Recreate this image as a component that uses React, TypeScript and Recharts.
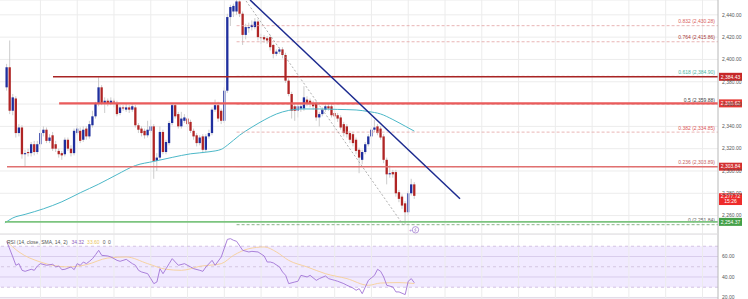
import React from "react";
import {
  ComposedChart,
  Bar,
  Line,
  XAxis,
  YAxis,
  CartesianGrid,
  ReferenceLine,
  ReferenceArea,
} from "recharts";

const FONT = "'Liberation Sans', Arial, sans-serif";
const BLUE = "#1f2f9e";
const RED = "#b02525";
const GRID = "#ececec";

// candles (hourly)
const opens = [
  2375, 2393, 2354, 2365, 2334, 2339, 2315, 2317, 2316, 2324,
  2317, 2324, 2334, 2337, 2327, 2332, 2324, 2318, 2316, 2315,
  2328, 2320, 2316, 2334, 2336, 2328, 2338, 2331, 2341, 2349,
  2360, 2375, 2361, 2363, 2361, 2363, 2360, 2352, 2357, 2355,
  2357, 2355, 2357, 2341, 2338, 2336, 2332, 2336, 2340, 2309,
  2312, 2335, 2317, 2325, 2343, 2359, 2351, 2340, 2345, 2347,
  2344, 2336, 2332, 2325, 2331, 2319, 2331, 2334, 2355, 2359,
  2354, 2345, 2372, 2438, 2443, 2443, 2452, 2441, 2422, 2428,
  2429, 2429, 2434, 2420, 2420, 2419, 2420, 2413, 2405, 2407,
  2409, 2404, 2381, 2369, 2358, 2354, 2356, 2356, 2364, 2363,
  2361, 2361, 2348, 2351, 2355, 2358, 2358, 2352, 2350, 2348,
  2342, 2340, 2334, 2333, 2328, 2319, 2310, 2317, 2324, 2331,
  2337, 2340, 2338, 2331, 2310, 2297, 2299, 2299, 2281, 2277,
  2271, 2263, 2280, 2288,
];
const closes = [
  2393, 2354, 2366, 2334, 2339, 2315, 2316, 2316, 2324, 2317,
  2324, 2334, 2337, 2327, 2330, 2320, 2320, 2315, 2314, 2328,
  2320, 2316, 2336, 2338, 2327, 2337, 2331, 2342, 2349, 2360,
  2375, 2361, 2363, 2361, 2363, 2360, 2351, 2357, 2356, 2357,
  2355, 2358, 2341, 2337, 2334, 2332, 2337, 2340, 2309, 2312,
  2335, 2317, 2326, 2343, 2359, 2349, 2340, 2347, 2348, 2342,
  2336, 2331, 2325, 2330, 2319, 2331, 2334, 2355, 2359, 2347,
  2345, 2372, 2438, 2447, 2448, 2452, 2441, 2422, 2429, 2429,
  2431, 2434, 2420, 2419, 2418, 2417, 2411, 2405, 2407, 2409,
  2404, 2381, 2369, 2354, 2354, 2358, 2358, 2366, 2361, 2360,
  2358, 2348, 2351, 2355, 2358, 2356, 2350, 2349, 2347, 2339,
  2334, 2333, 2328, 2325, 2318, 2312, 2317, 2324, 2331, 2337,
  2339, 2334, 2330, 2310, 2297, 2298, 2297, 2280, 2275, 2269,
  2263, 2280, 2288, 2277.72,
];
const highs = [
  2396, 2417, 2369, 2367, 2342, 2341, 2319, 2320, 2326, 2327,
  2327, 2337, 2340, 2339, 2333, 2335, 2327, 2320, 2318, 2330,
  2330, 2323, 2338, 2341, 2339, 2340, 2340, 2345, 2354, 2362,
  2384, 2377, 2366, 2365, 2366, 2365, 2363, 2359, 2359, 2360,
  2359, 2360, 2359, 2343, 2340, 2338, 2345, 2346, 2342, 2316,
  2340, 2337, 2328, 2345, 2361, 2361, 2353, 2353, 2351, 2350,
  2346, 2338, 2334, 2332, 2333, 2333, 2337, 2357, 2364, 2362,
  2356, 2375, 2441, 2449, 2450, 2454, 2453, 2443, 2432, 2433,
  2435, 2437, 2436, 2423, 2422, 2421, 2422, 2414, 2409, 2411,
  2411, 2406, 2383, 2371, 2360, 2361, 2361, 2376, 2367, 2365,
  2363, 2363, 2353, 2357, 2360, 2360, 2360, 2354, 2352, 2350,
  2344, 2342, 2336, 2335, 2330, 2321, 2319, 2326, 2333, 2339,
  2346, 2342, 2340, 2333, 2312, 2305, 2301, 2301, 2283, 2279,
  2273, 2282, 2293, 2290,
];
const lows = [
  2372, 2351, 2350, 2330, 2331, 2311, 2304, 2313, 2313, 2314,
  2315, 2322, 2331, 2325, 2325, 2318, 2317, 2312, 2310, 2313,
  2318, 2313, 2314, 2332, 2325, 2326, 2328, 2329, 2339, 2347,
  2358, 2359, 2352, 2358, 2359, 2357, 2349, 2350, 2354, 2353,
  2352, 2353, 2339, 2334, 2331, 2329, 2330, 2334, 2293, 2300,
  2310, 2315, 2315, 2323, 2341, 2347, 2338, 2338, 2343, 2340,
  2334, 2328, 2322, 2323, 2316, 2317, 2329, 2332, 2353, 2344,
  2342, 2343, 2370, 2430, 2438, 2440, 2438, 2413, 2418, 2424,
  2426, 2427, 2417, 2414, 2415, 2414, 2408, 2401, 2403, 2405,
  2401, 2379, 2367, 2347, 2345, 2348, 2353, 2354, 2358, 2357,
  2355, 2345, 2340, 2349, 2353, 2354, 2348, 2346, 2344, 2337,
  2331, 2330, 2325, 2322, 2315, 2298, 2306, 2315, 2322, 2329,
  2335, 2332, 2328, 2307, 2288, 2294, 2294, 2277, 2272, 2266,
  2252, 2260, 2278, 2275,
];

// moving average on price
const smaIdx = [-0.6, 2, 6, 12, 18, 24, 30, 36, 42, 48, 54, 60, 66, 70, 72, 76, 80, 84, 88, 92, 96, 102, 108, 114, 118, 122, 126, 130, 133];
const smaVal = [
  2253.4, 2257.9, 2261.1, 2266.1, 2272.4, 2280.5, 2288.2, 2296.8, 2304.9, 2308.6,
  2312.2, 2315.4, 2317.2, 2319.4, 2323.1, 2332.1, 2339.3, 2345.7, 2351.1, 2354.3,
  2355.6, 2355.6, 2355.2, 2354.7, 2353.3, 2351.1, 2346.1, 2340.2, 2335.7,
];

// RSI pane
const rsiIdx = [
  0, 2, 3, 4, 5, 6, 8, 9, 10, 11, 13, 15, 16, 17, 18, 19, 21, 22, 23, 24,
  25, 26, 27, 28, 29, 30, 31, 33, 34, 35, 36, 37, 39, 41, 42, 43, 44, 46, 47, 48,
  49, 50, 51, 52, 53, 54, 55, 56, 58, 60, 61, 63, 64, 65, 67, 68, 70, 72, 73, 74,
  75, 77, 79, 80, 82, 84, 85, 86, 87, 89, 90, 91, 92, 94, 95, 96, 98, 99, 101, 102,
  104, 105, 107, 108, 110, 111, 113, 114, 115, 116, 118, 120, 121, 122, 123, 124, 126, 127, 128, 130,
  131, 132, 133,
];
const rsiVal = [
  74.8, 59.5, 51.4, 53.0, 46.5, 45.5, 47.5, 46.5, 50.7, 53.0, 51.4, 52.4, 49.8, 50.7, 47.1, 47.5, 49.8, 47.1, 53.0, 51.4,
  54.6, 53.0, 55.3, 57.9, 61.8, 66.0, 61.1, 60.5, 59.5, 57.9, 56.2, 55.3, 57.2, 53.0, 51.4, 46.5, 44.9, 43.2, 38.4, 33.5,
  35.1, 48.1, 43.2, 48.1, 53.0, 57.9, 54.6, 51.4, 53.0, 49.8, 48.1, 46.5, 45.5, 49.8, 56.2, 51.4, 59.5, 76.7, 77.4, 75.8,
  74.8, 66.0, 64.4, 65.0, 64.4, 60.5, 54.6, 54.6, 53.7, 49.8, 44.9, 41.6, 33.5, 35.1, 35.8, 41.6, 40.0, 41.6, 36.7, 38.4,
  41.0, 38.4, 36.7, 35.8, 33.5, 31.9, 29.2, 27.0, 28.6, 23.7, 36.7, 41.6, 47.5, 45.5, 40.0, 31.9, 30.2, 25.4, 25.4, 22.8,
  35.8, 38.4, 34.32,
];
const rsiMaIdx = [0, 4, 11, 20, 26, 33, 39, 46, 52, 57, 63, 70, 74, 79, 84, 88, 92, 98, 104, 111, 118, 122, 128, 133];
const rsiMaVal = [74.8, 64.4, 54.6, 49.8, 52.0, 58.5, 59.5, 53.0, 47.5, 46.5, 50.4, 53.0, 61.1, 67.6, 69.3, 64.4, 56.2, 49.8, 43.2, 38.4, 31.9, 34.1, 34.5, 33.6];

// axes
const priceTicks = [2260, 2280, 2300, 2320, 2340, 2360, 2380, 2400, 2420, 2440];
const rsiTicks = [20, 40, 60];
const timeGrid = [11, 23, 35, 47, 59, 71, 83, 95, 107, 119, 131, 143, 155, 167, 179, 191, 203, 215, 227];

// drawings
const fibRatio = ["0.832", "0.764", "0.618", "0.5", "0.382", "0.236", "0"];
const fibPrice = [2430.28, 2415.86, 2384.9, 2359.88, 2334.85, 2303.89, 2251.84];
const fibColor = ["#d9605c", "#a83a3a", "#4cb5a3", "#444444", "#dd5555", "#c86464", "#666666"];
const fibStart = 75;

const levelPrice = [2384.43, 2360.62, 2303.84, 2254.37];
const levelStart = [15.1, 17.1, 0.1, -0.55];
const levelColor = ["#a82424", "#ea5b5b", "#e07070", "#7cc47f"];
const levelWidth = [1.4, 2.2, 1.6, 1.6];
const levelTag = ["#c62828", "#e53935", "#d32f2f", "#43a047"];

const lastPrice = 2277.72;
const lastTime = "15:26";

const X_MIN = -2.19;
const X_MAX = 232.07;
const P_MIN = 2243.5;
const P_MAX = 2453.3;

const candles = opens.map((o, i) => ({
  i,
  o,
  c: closes[i],
  h: highs[i],
  l: lows[i],
  range: [lows[i], highs[i]],
}));
const smaData = smaIdx.map((i, k) => ({ i, v: smaVal[k] }));
const rsiData = rsiIdx.map((i, k) => ({ i, v: rsiVal[k] }));
const rsiMaData = rsiMaIdx.map((i, k) => ({ i, v: rsiMaVal[k] }));

const fmt = (v: number) =>
  v.toLocaleString("en-US", { minimumFractionDigits: 2, maximumFractionDigits: 2 });

function Candle(props: any) {
  const { x, y, width, height, payload } = props;
  if (!payload || height == null) return null;
  const { o, c, h, l } = payload;
  const cx = x + width / 2;
  const hh = Math.abs(height);
  const top = Math.min(y, y + height);
  const k = hh / (h - l);
  const bodyTop = top + (h - Math.max(o, c)) * k;
  const bodyH = Math.max(Math.abs(o - c) * k, 0.7);
  return (
    <g>
      <line x1={cx} x2={cx} y1={top} y2={top + hh} stroke="#c6c6c6" strokeWidth={0.9} />
      <rect x={cx - 1.15} y={bodyTop} width={2.3} height={bodyH} fill={c >= o ? BLUE : RED} />
    </g>
  );
}

function PriceTag(props: any) {
  const { viewBox, text, sub, fill } = props;
  if (!viewBox) return null;
  const x = viewBox.x + viewBox.width;
  const y = viewBox.y;
  if (sub) {
    return (
      <g>
        <rect x={x + 1} y={y - 2.6} width={23} height={11.8} fill={fill} />
        <text x={x + 12.5} y={y + 2.2} textAnchor="middle" fontSize={5} fill="#fff">{text}</text>
        <text x={x + 12.5} y={y + 7.6} textAnchor="middle" fontSize={5} fill="#fff">{sub}</text>
      </g>
    );
  }
  return (
    <g>
      <rect x={x + 1} y={y - 4} width={23} height={8} fill={fill} />
      <text x={x + 12.5} y={y + 1.8} textAnchor="middle" fontSize={5} fill="#fff">{text}</text>
    </g>
  );
}

function FibLabel(props: any) {
  const { viewBox, text, color } = props;
  if (!viewBox) return null;
  return (
    <text x={viewBox.x + viewBox.width - 3} y={viewBox.y - 2.3} textAnchor="end" fontSize={5} fill={color}>
      {text}
    </text>
  );
}

export default function App() {
  return (
    <div
      style={{
        position: "absolute",
        left: 0,
        top: 0,
        width: 748,
        height: 299,
        background: "#fff",
        overflow: "hidden",
        fontFamily: FONT,
      }}
    >
      <div style={{ position: "absolute", left: 0, top: 0 }}>
        <ComposedChart width={748} height={234} data={candles} margin={{ top: 0, right: 0, bottom: 0, left: 0 }}>
          <CartesianGrid vertical={false} stroke={GRID} />
          {timeGrid.map((t) => (
            <ReferenceLine key={"g" + t} x={t} stroke={GRID} />
          ))}
          <XAxis type="number" dataKey="i" domain={[X_MIN, X_MAX]} hide allowDataOverflow />
          <YAxis
            orientation="right"
            width={30}
            domain={[P_MIN, P_MAX]}
            ticks={priceTicks}
            interval={0}
            allowDataOverflow
            tickSize={0}
            tickMargin={4}
            tickFormatter={fmt}
            tick={{ fontSize: 5, fill: "#555" }}
            axisLine={{ stroke: "#b8b8b8" }}
          />
          <Line
            data={smaData}
            dataKey="v"
            type="monotone"
            stroke="#4cb8c8"
            strokeWidth={1}
            dot={false}
            activeDot={false}
            isAnimationActive={false}
          />
          {fibPrice.map((p, k) => (
            <ReferenceLine
              key={"f" + k}
              segment={[
                { x: fibStart, y: p },
                { x: X_MAX, y: p },
              ]}
              stroke={k === 6 ? "#6a9f6a" : "#e3a2a2"}
              strokeDasharray="3 2"
              strokeWidth={0.8}
              label={<FibLabel text={`${fibRatio[k]} (${fmt(p)})`} color={fibColor[k]} />}
            />
          ))}
          {levelPrice.map((p, k) => (
            <ReferenceLine
              key={"l" + k}
              segment={[
                { x: levelStart[k], y: p },
                { x: X_MAX, y: p },
              ]}
              stroke={levelColor[k]}
              strokeWidth={levelWidth[k]}
              label={<PriceTag text={fmt(p)} fill={levelTag[k]} />}
            />
          ))}
          <Bar dataKey="range" barSize={3} shape={(p: any) => <Candle {...p} />} isAnimationActive={false} />
          <ReferenceLine
            segment={[
              { x: 78.1, y: 2452.4 },
              { x: 129.3, y: 2252 },
            ]}
            stroke="#9a9a9a"
            strokeDasharray="2 2"
            strokeWidth={0.8}
            ifOverflow="hidden"
          />
          <ReferenceLine
            segment={[
              { x: 79.4, y: 2453.3 },
              { x: 147.9, y: 2275.1 },
            ]}
            stroke="#1c2a8f"
            strokeWidth={1.5}
            ifOverflow="hidden"
          />
          <ReferenceLine
            y={lastPrice}
            stroke="none"
            strokeOpacity={0}
            label={<PriceTag text={fmt(lastPrice)} sub={lastTime} fill="#ee2b2b" />}
          />
        </ComposedChart>
      </div>

      <div style={{ position: "absolute", left: 0, top: 234 }}>
        <ComposedChart width={748} height={65} margin={{ top: 0, right: 0, bottom: 0, left: 0 }}>
          <CartesianGrid vertical={false} stroke="#e2dce8" />
          {timeGrid.map((t) => (
            <ReferenceLine key={"rg" + t} x={t} stroke={GRID} />
          ))}
          <XAxis type="number" dataKey="i" domain={[X_MIN, X_MAX]} hide allowDataOverflow />
          <YAxis
            orientation="right"
            width={30}
            domain={[18.5, 81.95]}
            ticks={rsiTicks}
            interval={0}
            allowDataOverflow
            tickSize={0}
            tickMargin={4}
            tickFormatter={(v: number) => v.toFixed(2)}
            tick={{ fontSize: 5, fill: "#555" }}
            axisLine={{ stroke: "#b8b8b8" }}
          />
          <ReferenceArea y1={30} y2={70} fill="#b388ff" fillOpacity={0.18} stroke="none" />
          <ReferenceLine y={70} stroke="#c9b6dd" strokeDasharray="3 3" strokeWidth={0.8} />
          <ReferenceLine y={50} stroke="#cdbfdc" strokeDasharray="3 3" strokeWidth={0.8} />
          <ReferenceLine y={30} stroke="#c9b6dd" strokeDasharray="3 3" strokeWidth={0.8} />
          <Line
            data={rsiMaData}
            dataKey="v"
            type="monotone"
            stroke="#f6cf96"
            strokeWidth={0.9}
            dot={false}
            activeDot={false}
            isAnimationActive={false}
          />
          <Line
            data={rsiData}
            dataKey="v"
            type="linear"
            stroke="#a274d6"
            strokeWidth={0.9}
            dot={false}
            activeDot={false}
            isAnimationActive={false}
          />
        </ComposedChart>
      </div>

      <svg
        width={748}
        height={299}
        style={{ position: "absolute", left: 0, top: 0, pointerEvents: "none" }}
      >
        <line x1={0} x2={718} y1={234} y2={234} stroke="#e4e4e4" strokeWidth={1} />
        <text x={7} y={243.6} fontSize={5} fill="#555">
          RSI (14, close, SMA, 14, 2)
          <tspan dx={4} fill="#8f63c2">34.32</tspan>
          <tspan dx={3} fill="#e9c35c">33.60</tspan>
          <tspan dx={3} fill="#555">0</tspan>
          <tspan dx={2.5} fill="#555">0</tspan>
        </text>
        <circle cx={415.5} cy={229.8} r={3.2} fill="#fff" stroke="#a47fd0" strokeWidth={0.8} />
        <path d="M416.2 227.6 L414.6 230 L416.2 230 L414.8 232" fill="none" stroke="#a47fd0" strokeWidth={0.6} />
        <text x={409} y={231.8} fontSize={5} fill="#a47fd0">+</text>
      </svg>
    </div>
  );
}
